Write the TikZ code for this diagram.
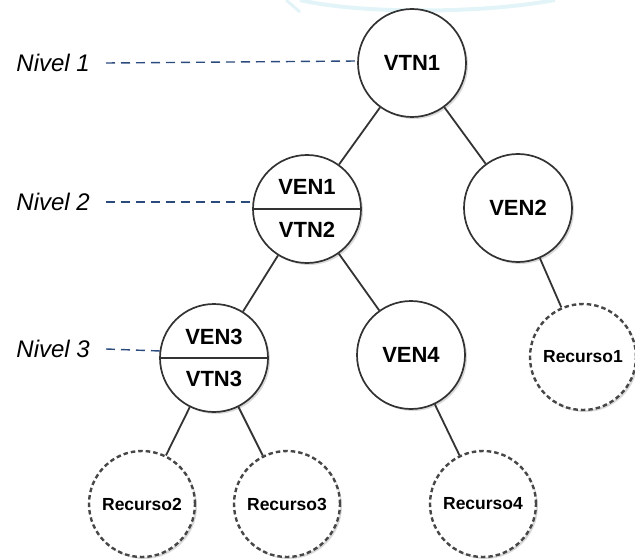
\documentclass[tikz,border=0pt]{standalone}
\usepackage{fontspec}
\setmainfont{Liberation Sans}
\usetikzlibrary{shadows,calc}
\definecolor{edgegray}{HTML}{333333}
\definecolor{navyline}{HTML}{2B4A7E}
\definecolor{wmark}{HTML}{E3F4F8}
\begin{document}
\begin{tikzpicture}[x=1pt,y=-1pt,
  nodecirc/.style={circle, draw=edgegray, line width=1.7pt, fill=white,
    minimum size=108pt, inner sep=0pt,
    drop shadow={shadow xshift=2pt, shadow yshift=-2pt, opacity=0.25, fill=black!60}},
  rescirc/.style={nodecirc, minimum size=106pt, dash pattern=on 4.5pt off 3pt, line width=2.4pt, draw=edgegray!90},
  lbl/.style={font=\bfseries\fontsize{22}{25}\selectfont, inner sep=0pt},
  reslbl/.style={font=\bfseries\fontsize{17.5}{20}\selectfont},
  lvl/.style={font=\itshape\fontsize{24}{28}\selectfont, anchor=east, inner sep=0pt},
  lvlline/.style={draw=navyline, line width=1.4pt, dash pattern=on 9pt off 6pt},
  conn/.style={draw=edgegray, line width=1.8pt}]
\useasboundingbox (0,0) rectangle (635,559);
% faint watermark
\draw[wmark, line width=4pt] (300,0) .. controls (360,14) and (480,14) .. (555,0);
\draw[wmark, line width=3pt] (286,0) -- (300,12);

% level labels
\node[lvl] (n1) at (90,63) {Nivel 1};
\node[lvl] (n2) at (90,202) {Nivel 2};
\node[lvl] (n3) at (90,349) {Nivel 3};

% nodes
\node[nodecirc] (vtn1) at (412,63) {};
\node[nodecirc] (ven1) at (307,209) {};
\node[nodecirc] (ven2) at (518,208) {};
\node[nodecirc] (ven3) at (214,358) {};
\node[nodecirc] (ven4) at (411,355) {};
\node[rescirc] (rec1) at (583,357) {};
\node[rescirc] (rec2) at (142,504) {};
\node[rescirc] (rec3) at (287,504) {};
\node[rescirc] (rec4) at (483,504) {};

% texts
\node[lbl] (t1) at (vtn1) {VTN1};
\node[lbl] (t2) at ($(ven1)+(0,-22)$) {VEN1};
\node[lbl] (t3) at ($(ven1)+(0,21)$) {VTN2};
\node[lbl] (t4) at (ven2) {VEN2};
\node[lbl] (t5) at ($(ven3)+(0,-21)$) {VEN3};
\node[lbl] (t6) at ($(ven3)+(0,21)$) {VTN3};
\node[lbl] (t7) at (ven4) {VEN4};
\node[reslbl] (r1) at (rec1) {Recurso1};
\node[reslbl] (r2) at (rec2) {Recurso2};
\node[reslbl] (r3) at (rec3) {Recurso3};
\node[reslbl] (r4) at (rec4) {Recurso4};

% split lines
\draw[edgegray, line width=1.7pt] (ven1.west) -- (ven1.east);
\draw[edgegray, line width=1.7pt] (ven3.west) -- (ven3.east);

% level lines
\coordinate (d1) at ($(vtn1.west)+(0,-2)$);
\coordinate (d2) at ($(ven1.west)+(3,-7)$);
\coordinate (d3) at ($(ven3.west)+(1,-7)$);
\draw[lvlline] ($(n1.east)+(16,0)$) -- (d1);
\draw[lvlline] ($(n2.east)+(16,0)$) -- (d2);
\draw[lvlline] ($(n3.east)+(16,0)$) -- (d3);

% connectors
\draw[conn] (vtn1) -- (ven1);
\draw[conn] (vtn1) -- (ven2);
\draw[conn] (ven1) -- (ven3);
\draw[conn] (ven1) -- (ven4);
\draw[conn] (ven2) -- (rec1);
\draw[conn] (ven3) -- (rec2);
\draw[conn] (ven3) -- (rec3);
\draw[conn] (ven4) -- (rec4);
\end{tikzpicture}
\end{document}
